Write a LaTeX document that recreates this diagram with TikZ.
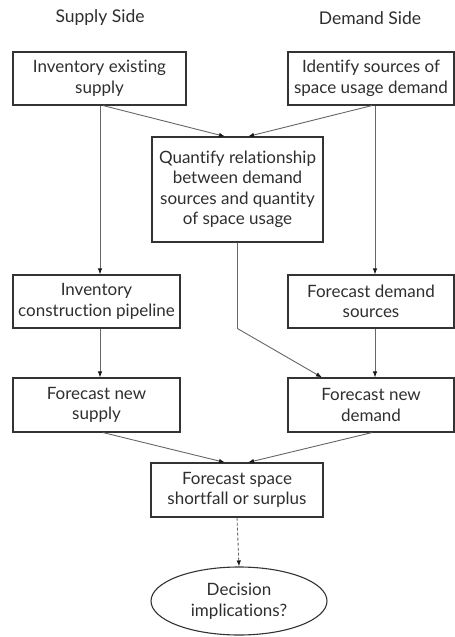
\documentclass[tikz,border=0pt]{standalone}
\usepackage{fontspec}
\setmainfont{Lato}[Ligatures={NoCommon,NoRare,NoDiscretionary}]
\usetikzlibrary{arrows.meta,shapes.geometric,calc}
\begin{document}
\begin{tikzpicture}[x=1pt,y=-1pt,
  every node/.style={font=\fontsize{17}{20.5}\selectfont, text=black!82},
  stepbox/.style={draw=black!80, line width=1.1pt, align=center, inner sep=0pt},
  flow/.style={draw=black!60, line width=0.9pt, -{Latex[length=6pt,width=4.5pt,fill=black!90,color=black!90]}},
  head/.style={font=\fontsize{17.5}{20}\selectfont}]
  \useasboundingbox (0,0) rectangle (455,637);

  % column headings
  \node[head] (hs) at (100,18) {Supply Side};
  \node[head] (hd) at (370,18) {Demand Side};

  % process boxes
  \node[stepbox, minimum width=173pt, minimum height=53pt] (b1) at (99.5,78.5)
    {Inventory existing\\supply};
  \node[stepbox, minimum width=166pt, minimum height=53pt] (b2) at (371,78.5)
    {Identify sources of\\space usage demand};
  \node[stepbox, minimum width=171pt, minimum height=105pt] (q) at (237.5,189.5)
    {Quantify relationship\\between demand\\sources and quantity\\of space usage};
  \node[stepbox, minimum width=167pt, minimum height=53pt] (b3) at (96.5,301.5)
    {Inventory\\construction pipeline};
  \node[stepbox, minimum width=166pt, minimum height=53pt] (b4) at (371,301.5)
    {Forecast demand\\sources};
  \node[stepbox, minimum width=167pt, minimum height=54pt] (b5) at (96.5,405)
    {Forecast new\\supply};
  \node[stepbox, minimum width=166pt, minimum height=54pt] (b6) at (371,405)
    {Forecast new\\demand};
  \node[stepbox, minimum width=172pt, minimum height=54pt] (f) at (237,490)
    {Forecast space\\shortfall or surplus};
  \node[ellipse, draw=black!80, line width=1.1pt, align=center, inner sep=0pt,
        minimum width=176pt, minimum height=68pt] (e) at (239,601)
    {Decision\\implications?};

  % connectors
  \draw[flow] ([xshift=3.5pt]b1.south) -- ([xshift=-12.5pt]q.north);
  \draw[flow] ([xshift=1pt]b2.south) -- ([xshift=10.5pt]q.north);
  \draw[flow] ([xshift=0.5pt]b1.south) -- ([xshift=0.5pt]b1.south |- b3.north);
  \draw[flow] ([xshift=4pt]b2.south) -- ([xshift=4pt]b2.south |- b4.north);
  \draw[flow] ([xshift=0.5pt]b1.south |- b3.south) -- ([xshift=0.5pt]b1.south |- b5.north);
  \draw[flow] ([xshift=4pt]b2.south |- b4.south) -- ([xshift=4pt]b2.south |- b6.north);
  \coordinate (qbend) at (q.south |- b4.south);
  \draw[flow] (q.south) -- (qbend) -- ([xshift=-49pt]b6.north);
  \draw[flow] ([xshift=6.5pt]b5.south) -- ([xshift=-12pt]f.north);
  \draw[flow] ([xshift=1pt]b6.south) -- ([xshift=11pt]f.north);
  \draw[flow, dashed, dash pattern=on 3pt off 2pt] (f.south) -- (e.north);
\end{tikzpicture}
\end{document}
